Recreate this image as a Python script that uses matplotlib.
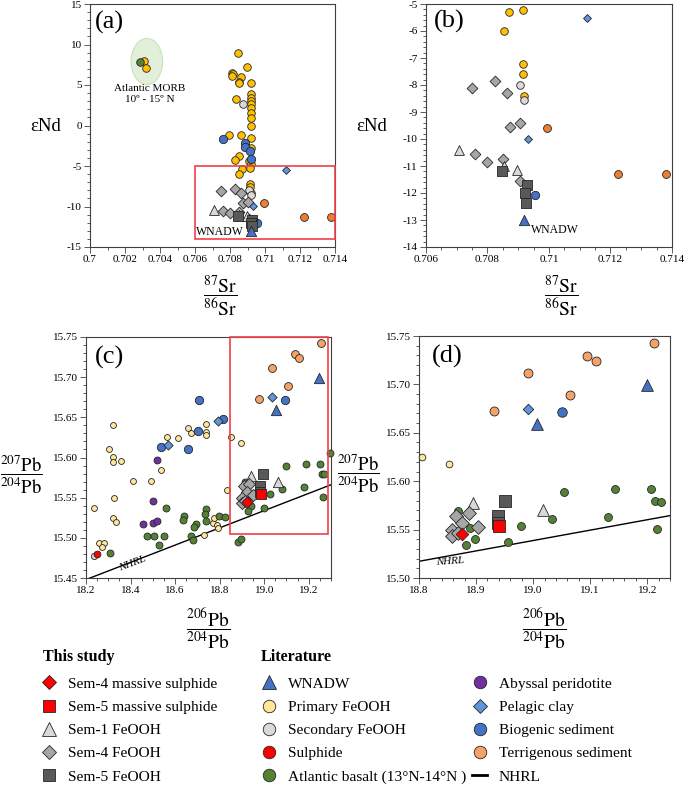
import matplotlib
matplotlib.use("Agg")
import numpy as np
import matplotlib.pyplot as plt
from matplotlib.patches import Ellipse, Rectangle
from matplotlib.lines import Line2D
from matplotlib.ticker import MultipleLocator, FuncFormatter, FormatStrFormatter

plt.rcParams['font.family'] = ['Liberation Serif', 'DejaVu Serif']
plt.rcParams['mathtext.fontset'] = 'stix'
plt.rcParams['axes.unicode_minus'] = False

# ---- Sr-Nd data (87Sr/86Sr, eNd) ----
srnd_primary_sr = [0.70309, 0.70318, 0.70847, 0.70899, 0.70814, 0.70818, 0.70812, 0.70861, 0.70851,
                   0.70851, 0.7092, 0.7092, 0.7092, 0.7092, 0.7092, 0.7092, 0.7092, 0.7092, 0.7092,
                   0.70833, 0.70918, 0.70796, 0.70863, 0.70918, 0.70853, 0.70829, 0.70907, 0.70918,
                   0.70871, 0.70914, 0.70854, 0.70914, 0.70916, 0.70919]
srnd_primary_nd = [8.0, 7.07, 8.95, 7.27, 6.5, 6.3, 6.1, 5.95, 5.4,
                   5.2, 5.3, 3.9, 3.4, 3.0, 2.6, 2.1, 1.6, 0.9, 0.0,
                   3.23, -1.58, -1.17, -1.17, -2.8, -3.77, -4.26, -4.34, -4.7,
                   -5.31, -5.21, -6.0, -7.22, -7.61, -8.39]
srnd_secondary_sr = [0.70872, 0.70906, 0.70919]
srnd_secondary_nd = [2.6, -8.0, -8.57]
srnd_basalt_sr = [0.70286]
srnd_basalt_nd = [7.85]
srnd_biogenic_sr = [0.7076, 0.70888, 0.70885, 0.70915, 0.7092, 0.70953]
srnd_biogenic_nd = [-1.7, -2.2, -2.6, -3.1, -4.1, -12.08]
srnd_pelagic_sr = [0.71122, 0.70933]
srnd_pelagic_nd = [-5.51, -9.99]
srnd_terr_sr = [0.70994, 0.71223, 0.71379]
srnd_terr_nd = [-9.6, -11.29, -11.29]
srnd_wnadw_sr = [0.7092]
srnd_wnadw_nd = [-13.0]
srnd_sem1_sr = [0.70706, 0.70854, 0.70895]
srnd_sem1_nd = [-10.4, -11.0, -11.14]
srnd_sem4_sr = [0.70750, 0.70826, 0.70862, 0.70874, 0.70905, 0.70760, 0.70799, 0.70852, 0.70907]
srnd_sem4_nd = [-8.11, -7.86, -8.29, -9.55, -9.39, -10.54, -10.84, -10.73, -11.57]
srnd_sem5_sr = [0.70848, 0.70927, 0.70921, 0.70924]
srnd_sem5_nd = [-11.17, -11.7, -12.0, -12.37]

# ---- Pb data (206Pb/204Pb, 207Pb/204Pb) ----
pb_primary_206 = [18.191, 18.275, 18.260, 18.275, 18.275, 18.312, 18.364, 18.449, 18.490, 18.282,
                  18.275, 18.290, 18.215, 18.237, 18.227, 18.517, 18.566, 18.611, 18.627, 18.693,
                  18.696, 18.696, 18.686, 18.723, 18.741, 18.748, 18.730, 18.789, 18.806, 18.853]
pb_primary_207 = [15.537, 15.640, 15.611, 15.601, 15.594, 15.596, 15.571, 15.571, 15.585, 15.549,
                  15.525, 15.520, 15.493, 15.494, 15.488, 15.625, 15.624, 15.637, 15.630, 15.642,
                  15.632, 15.628, 15.503, 15.518, 15.516, 15.512, 15.525, 15.560, 15.625, 15.618]
pb_secondary_206 = [18.192]
pb_secondary_207 = [15.477]
pb_sulphide_206 = [18.204]
pb_sulphide_207 = [15.480]
pb_basalt_206 = [18.514, 18.429, 18.461, 18.503, 18.481, 18.263, 18.593, 18.589, 18.648, 18.641,
                 18.627, 18.636, 18.696, 18.690, 18.696, 18.753, 18.780, 18.838, 18.850,
                 19.054, 19.144, 19.207, 19.214, 19.225, 19.217, 19.132, 19.034, 18.979, 18.956,
                 18.898, 18.882, 18.890, 18.869, 19.252]
pb_basalt_207 = [15.537, 15.502, 15.502, 15.502, 15.491, 15.481, 15.527, 15.522, 15.517, 15.513,
                 15.502, 15.497, 15.536, 15.530, 15.521, 15.527, 15.526, 15.495, 15.498,
                 15.589, 15.592, 15.592, 15.580, 15.579, 15.551, 15.563, 15.561, 15.554, 15.537,
                 15.540, 15.534, 15.552, 15.569, 15.606]
pb_peridotite_206 = [18.472, 18.458, 18.412, 18.454, 18.472]
pb_peridotite_207 = [15.597, 15.546, 15.517, 15.519, 15.521]
pb_pelagic_206 = [18.521, 18.748, 18.991]
pb_pelagic_207 = [15.615, 15.645, 15.675]
pb_biogenic_206 = [18.663, 18.656, 18.612, 18.491, 18.771, 19.050]
pb_biogenic_207 = [15.672, 15.633, 15.610, 15.613, 15.648, 15.671]
pb_terr_206 = [19.212, 19.094, 19.110, 18.991, 19.064, 18.932]
pb_terr_207 = [15.743, 15.729, 15.724, 15.712, 15.689, 15.673]
pb_wnadw_206 = [19.006, 19.199]
pb_wnadw_207 = [15.659, 15.699]
pb_sem4ms_206 = [18.876]
pb_sem4ms_207 = [15.545]
pb_sem5ms_206 = [18.940]
pb_sem5ms_207 = [15.554]
pb_sem1_206 = [18.895, 19.017]
pb_sem1_207 = [15.577, 15.570]
pb_sem4_206 = [18.865, 18.887, 18.876, 18.857, 18.903, 18.857, 18.869]
pb_sem4_207 = [15.564, 15.567, 15.557, 15.550, 15.553, 15.543, 15.546]
pb_sem5_206 = [18.950, 18.938, 18.938]
pb_sem5_207 = [15.580, 15.564, 15.557]

# NHRL as drawn in the figure
nhrl_slope = 0.1073
nhrl_intercept = 13.500
# panel (c) in the source is offset against its own tick labels
panel_c_shift = 0.045

GOLD = '#FFC000'
PALE = '#FFE699'
LGRAY = '#D9D9D9'
RED = '#FF0000'
GREEN = '#548235'
PURPLE = '#7030A0'
PELAGIC = '#5F95DA'
BLUE = '#4472C4'
TERR_A = '#ED7D31'
TERR_C = '#F4A266'
SEM4 = '#A6A6A6'
SEM5 = '#595959'
EDGE = '#262626'
BOXRED = '#F0404A'

W, H = 685, 786
fig = plt.figure(figsize=(W / 100, H / 100), dpi=100)


def px_axes(left, top, right, bottom):
    return fig.add_axes([left / W, 1 - bottom / H, (right - left) / W, (bottom - top) / H])


ax_a = px_axes(90, 4, 335, 247)
ax_b = px_axes(426, 4, 672, 247)
ax_c = px_axes(86, 337, 331, 578)
ax_d = px_axes(419, 336, 670, 578)


def style(ax):
    for sp in ax.spines.values():
        sp.set_color('#404040')
        sp.set_linewidth(0.8)
    ax.tick_params(which='both', direction='out', labelsize=8, color='#404040', width=0.6, pad=2)
    ax.tick_params(which='major', length=4)
    ax.tick_params(which='minor', length=2)


def pts(ax, x, y, shift=0.0, **kw):
    # like the source chart: a point is drawn whole if its centre is inside the axes, else not at all
    x = np.asarray(x) + shift
    y = np.asarray(y)
    x0, x1 = ax.get_xlim()
    y0, y1 = ax.get_ylim()
    keep = (x >= x0) & (x <= x1) & (y >= y0) & (y <= y1)
    ax.scatter(x[keep], y[keep], edgecolors=EDGE, linewidths=0.6, zorder=3, clip_on=False, **kw)


def draw_srnd(ax, k=1.0):
    pts(ax, srnd_primary_sr, srnd_primary_nd, s=30 * k, c=GOLD, marker='o')
    pts(ax, srnd_secondary_sr, srnd_secondary_nd, s=30 * k, c=LGRAY, marker='o')
    pts(ax, srnd_basalt_sr, srnd_basalt_nd, s=30 * k, c=GREEN, marker='o')
    pts(ax, srnd_biogenic_sr, srnd_biogenic_nd, s=36 * k, c=BLUE, marker='o')
    pts(ax, srnd_pelagic_sr, srnd_pelagic_nd, s=16 * k, c=PELAGIC, marker='D')
    pts(ax, srnd_terr_sr, srnd_terr_nd, s=32 * k, c=TERR_A, marker='o')
    pts(ax, srnd_sem4_sr, srnd_sem4_nd, s=30 * k, c=SEM4, marker='D')
    pts(ax, srnd_sem1_sr, srnd_sem1_nd, s=50 * k, c=LGRAY, marker='^')
    pts(ax, srnd_sem5_sr, srnd_sem5_nd, s=45 * k, c=SEM5, marker='s')
    pts(ax, srnd_wnadw_sr, srnd_wnadw_nd, s=55 * k, c=BLUE, marker='^')


def draw_pb(ax, shift, k):
    pts(ax, pb_primary_206, pb_primary_207, shift, s=18 * k, c=PALE, marker='o')
    pts(ax, pb_secondary_206, pb_secondary_207, shift, s=20 * k, c=LGRAY, marker='o')
    pts(ax, pb_sulphide_206, pb_sulphide_207, shift, s=24 * k, c=RED, marker='o')
    pts(ax, pb_basalt_206, pb_basalt_207, shift, s=25 * k, c=GREEN, marker='o')
    pts(ax, pb_peridotite_206, pb_peridotite_207, shift, s=25 * k, c=PURPLE, marker='o')
    pts(ax, pb_biogenic_206, pb_biogenic_207, shift, s=36 * k, c=BLUE, marker='o')
    pts(ax, pb_pelagic_206, pb_pelagic_207, shift, s=22 * k, c=PELAGIC, marker='D')
    pts(ax, pb_terr_206, pb_terr_207, shift, s=32 * k, c=TERR_C, marker='o')
    pts(ax, pb_wnadw_206, pb_wnadw_207, shift, s=55 * k, c=BLUE, marker='^')
    pts(ax, pb_sem1_206, pb_sem1_207, shift, s=55 * k, c=LGRAY, marker='^')
    pts(ax, pb_sem4_206, pb_sem4_207, shift, s=38 * k, c=SEM4, marker='D')
    pts(ax, pb_sem5_206, pb_sem5_207, shift, s=50 * k, c=SEM5, marker='s')
    pts(ax, pb_sem5ms_206, pb_sem5ms_207, shift, s=50 * k, c=RED, marker='s')
    pts(ax, pb_sem4ms_206, pb_sem4ms_207, shift, s=32 * k, c=RED, marker='D')
    xs = np.array(ax.get_xlim()) - shift
    ax.plot(xs + shift, nhrl_slope * xs + nhrl_intercept, color='k', lw=1.0, zorder=2)


g_fmt = FuncFormatter(lambda v, p: '%g' % round(v, 4))
sr_label = r'$\dfrac{^{87}\mathrm{Sr}}{^{86}\mathrm{Sr}}$'
pb_xlabel = r'$\dfrac{^{206}\mathrm{Pb}}{^{204}\mathrm{Pb}}$'
pb_ylabel = r'$\dfrac{^{207}\mathrm{Pb}}{^{204}\mathrm{Pb}}$'

# ---- (a) ----
ax = ax_a
style(ax)
ax.set_xlim(0.7, 0.714)
ax.set_ylim(-15, 15)
ax.xaxis.set_major_locator(MultipleLocator(0.002))
ax.xaxis.set_minor_locator(MultipleLocator(0.001))
ax.yaxis.set_major_locator(MultipleLocator(5))
ax.yaxis.set_minor_locator(MultipleLocator(1))
ax.xaxis.set_major_formatter(g_fmt)
ax.add_patch(Ellipse((0.70325, 7.9), 0.0018, 5.7, facecolor='#E2EFD9', edgecolor='#C9E2BC',
                     lw=0.8, zorder=1))
draw_srnd(ax)
ax.add_patch(Rectangle((0.706, -14), 0.008, 9, fill=False, edgecolor=BOXRED, lw=1.2,
                       zorder=4, clip_on=False))
ax.text(0.70343, 4.6, 'Atlantic MORB', ha='center', va='center', fontsize=8)
ax.text(0.70343, 3.15, '10º - 15º N', ha='center', va='center', fontsize=8)
ax.text(0.7088, -13.2, 'WNADW', ha='right', va='center', fontsize=8.5)
ax.text(0.078, 0.925, '(a)', transform=ax.transAxes, ha='center', va='center', fontsize=19)

# ---- (b) ----
ax = ax_b
style(ax)
ax.set_xlim(0.706, 0.714)
ax.set_ylim(-14, -5)
ax.xaxis.set_major_locator(MultipleLocator(0.002))
ax.xaxis.set_minor_locator(MultipleLocator(0.0005))
ax.yaxis.set_major_locator(MultipleLocator(1))
ax.yaxis.set_minor_locator(MultipleLocator(0.2))
ax.xaxis.set_major_formatter(g_fmt)
draw_srnd(ax)
ax.text(0.7094, -13.37, 'WNADW', ha='left', va='center', fontsize=8.5)
ax.text(0.093, 0.93, '(b)', transform=ax.transAxes, ha='center', va='center', fontsize=19)

for ax, lx, ylx in ((ax_a, 0.53, -0.18), (ax_b, 0.55, -0.22)):
    ax.set_xlabel(sr_label, fontsize=14)
    ax.xaxis.set_label_coords(lx, -0.20)
    ax.xaxis.label.set_va('center')
    ax.set_ylabel('εNd', fontsize=13.5, rotation=0)
    ax.yaxis.set_label_coords(ylx, 0.494)
    ax.yaxis.label.set_va('center')
    ax.yaxis.label.set_ha('center')

# ---- (c) ----
ax = ax_c
style(ax)
ax.set_xlim(18.2, 19.3)
ax.set_ylim(15.45, 15.75)
ax.xaxis.set_major_locator(MultipleLocator(0.2))
ax.xaxis.set_minor_locator(MultipleLocator(0.05))
ax.yaxis.set_major_locator(MultipleLocator(0.05))
ax.yaxis.set_minor_locator(MultipleLocator(0.01))
ax.xaxis.set_major_formatter(FormatStrFormatter('%.1f'))
ax.yaxis.set_major_formatter(FormatStrFormatter('%.2f'))
draw_pb(ax, panel_c_shift, 1.0)
ax.add_patch(Rectangle((18.8 + panel_c_shift, 15.505), 0.44, 0.245, fill=False, edgecolor=BOXRED,
                       lw=1.2, zorder=4, clip_on=False))
ax.text(18.365 + panel_c_shift, 15.4685, 'NHRL', rotation=21, style='italic', fontsize=8,
        ha='center', va='center')
ax.text(0.094, 0.917, '(c)', transform=ax.transAxes, ha='center', va='center', fontsize=19)

# ---- (d) ----
ax = ax_d
style(ax)
ax.set_xlim(18.8, 19.24)
ax.set_ylim(15.5, 15.75)
ax.xaxis.set_major_locator(MultipleLocator(0.1))
ax.xaxis.set_minor_locator(MultipleLocator(0.02))
ax.yaxis.set_major_locator(MultipleLocator(0.05))
ax.yaxis.set_minor_locator(MultipleLocator(0.01))
ax.xaxis.set_major_formatter(FormatStrFormatter('%.1f'))
ax.yaxis.set_major_formatter(FormatStrFormatter('%.2f'))
draw_pb(ax, 0.0, 1.3)
ax.text(18.855, 15.517, 'NHRL', rotation=4, style='italic', fontsize=8, ha='center', va='center')
ax.text(0.112, 0.917, '(d)', transform=ax.transAxes, ha='center', va='center', fontsize=19)

for ax, ylx in ((ax_c, -0.265), (ax_d, -0.24)):
    ax.set_xlabel(pb_xlabel, fontsize=14)
    ax.xaxis.set_label_coords(0.5, -0.21)
    ax.xaxis.label.set_va('center')
    ax.set_ylabel(pb_ylabel, fontsize=13.5, rotation=0)
    ax.yaxis.set_label_coords(ylx, 0.43)
    ax.yaxis.label.set_va('center')
    ax.yaxis.label.set_ha('center')

# ---- legends ----
def mk(marker, color, ms=9):
    return Line2D([], [], marker=marker, linestyle='none', markerfacecolor=color,
                  markeredgecolor=EDGE, markeredgewidth=0.6, markersize=ms)


leg_kw = dict(frameon=False, loc='upper left', fontsize=11.1, handlelength=1.0, handletextpad=0.73,
              labelspacing=0.61, borderpad=0, borderaxespad=0)
study = [(mk('D', RED, 7.5), 'Sem-4 massive sulphide'),
         (mk('s', RED), 'Sem-5 massive sulphide'),
         (mk('^', LGRAY, 10), 'Sem-1 FeOOH'),
         (mk('D', SEM4, 7.5), 'Sem-4 FeOOH'),
         (mk('s', SEM5), 'Sem-5 FeOOH')]
lit = [(mk('^', BLUE, 10), 'WNADW'),
       (mk('o', PALE), 'Primary FeOOH'),
       (mk('o', LGRAY), 'Secondary FeOOH'),
       (mk('o', RED), 'Sulphide'),
       (mk('o', GREEN), 'Atlantic basalt (13°N-14°N )')]
lit2 = [(mk('o', PURPLE), 'Abyssal peridotite'),
        (mk('D', PELAGIC, 7.5), 'Pelagic clay'),
        (mk('o', BLUE), 'Biogenic sediment'),
        (mk('o', TERR_C), 'Terrigenous sediment'),
        (Line2D([], [], color='k', lw=2), 'NHRL')]

top = 1 - 677 / H
fig.legend(*zip(*study), bbox_to_anchor=(41 / W, top), **leg_kw)
fig.legend(*zip(*lit), bbox_to_anchor=(261 / W, top), **leg_kw)
fig.legend(*zip(*lit2), bbox_to_anchor=(472 / W, top), **leg_kw)
fig.text(43 / W, 1 - 657 / H, 'This study', fontsize=11.5, fontweight='bold', va='center')
fig.text(261 / W, 1 - 657 / H, 'Literature', fontsize=11.5, fontweight='bold', va='center')

fig.savefig('out.png', dpi=100)
